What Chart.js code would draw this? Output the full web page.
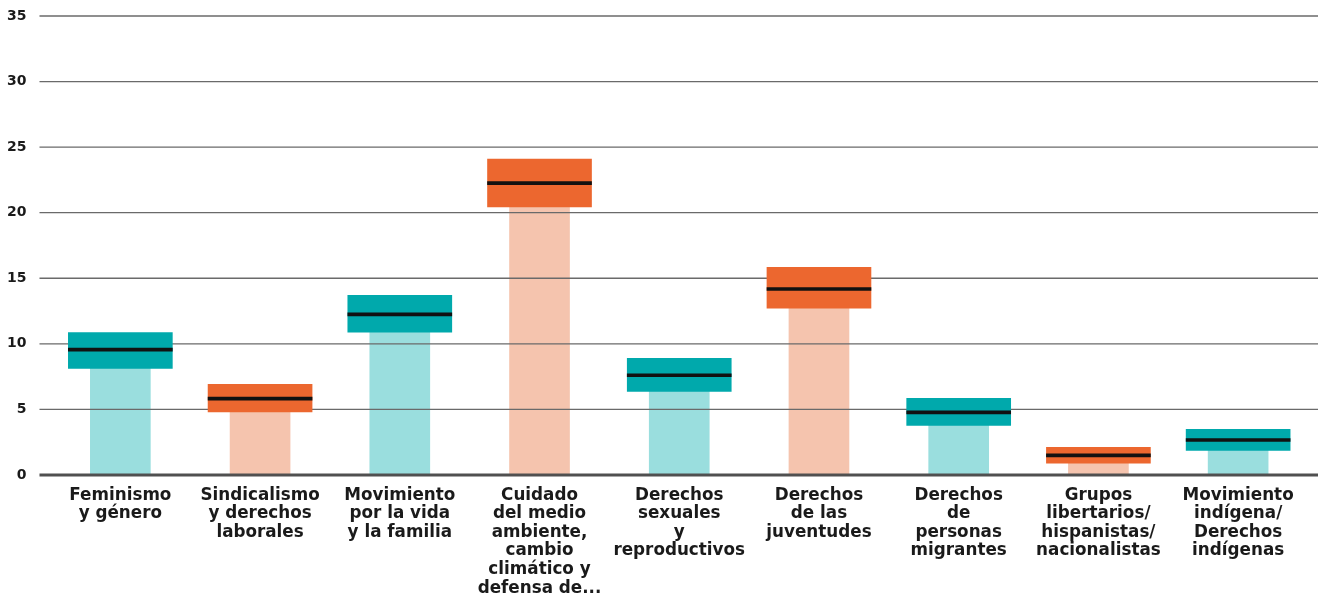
<!DOCTYPE html>
<html>
<head>
<meta charset="utf-8">
<script src="https://cdn.jsdelivr.net/npm/chart.js@4.4.1/dist/chart.umd.min.js"></script>
<style>
  html, body { margin: 0; padding: 0; background: #fff; }
  #wrap { width: 1320px; height: 596px; position: relative; }
</style>
</head>
<body>
<div id="wrap"><canvas id="myChart"></canvas></div>
<script>
const ctx = document.getElementById('myChart');

// categorias (etiquetas en varias lineas)
const categorias = [
  ['Feminismo', 'y género'],
  ['Sindicalismo', 'y derechos', 'laborales'],
  ['Movimiento', 'por la vida', 'y la familia'],
  ['Cuidado', 'del medio', 'ambiente,', 'cambio', 'climático y', 'defensa de...'],
  ['Derechos', 'sexuales', 'y', 'reproductivos'],
  ['Derechos', 'de las', 'juventudes'],
  ['Derechos', 'de', 'personas', 'migrantes'],
  ['Grupos', 'libertarios/', 'hispanistas/', 'nacionalistas'],
  ['Movimiento', 'indígena/', 'Derechos', 'indígenas']
];

// limite inferior, limite superior y valor central
const limiteInferior = [8.13, 4.80, 10.88, 20.44, 6.37, 12.71, 3.78, 0.90, 1.87];
const limiteSuperior = [10.85, 6.91, 13.70, 24.08, 8.89, 15.84, 5.84, 2.10, 3.47];
const valorCentral   = [9.56, 5.82, 12.25, 22.25, 7.60, 14.18, 4.77, 1.49, 2.66];

const ticksY = [0, 5, 10, 15, 20, 25, 30, 35];

// colores alternados
const colorFuerte = ['#00a9ac', '#ec672f'];
const colorSuave  = ['#9adede', '#f5c4ae'];
const fuertes = categorias.map((c, i) => colorFuerte[i % 2]);
const suaves  = categorias.map((c, i) => colorSuave[i % 2]);

// grosor de la linea del valor central (en unidades del eje)
const medioGrosor = 0.115;

// lineas de la grilla, dibujadas antes de las cajas
const grilla = {
  id: 'grilla',
  beforeDatasetDraw(chart, args) {
    if (args.index !== 1) return;
    const c = chart.ctx;
    const area = chart.chartArea;
    const y = chart.scales.y;
    c.save();
    ticksY.forEach(v => {
      const py = y.getPixelForValue(v);
      c.beginPath();
      if (v === 0) {
        c.lineWidth = 3;
        c.strokeStyle = '#505050';
      } else {
        c.lineWidth = 1.3;
        c.strokeStyle = '#6a6a6a';
      }
      c.moveTo(area.left - 11, py);
      c.lineTo(area.right + 10, py);
      c.stroke();
    });
    c.restore();
  }
};

new Chart(ctx, {
  type: 'bar',
  data: {
    labels: categorias,
    datasets: [
      {
        label: 'base',
        data: limiteInferior,
        backgroundColor: suaves,
        barThickness: 60,
        grouped: false,
        order: 2
      },
      {
        label: 'intervalo',
        data: limiteInferior.map((v, i) => [v, limiteSuperior[i]]),
        backgroundColor: fuertes,
        barThickness: 104,
        grouped: false,
        order: 1
      },
      {
        label: 'valor',
        data: valorCentral.map(v => [v - medioGrosor, v + medioGrosor]),
        backgroundColor: '#111',
        barThickness: 104,
        grouped: false,
        order: 0
      }
    ]
  },
  options: {
    responsive: true,
    maintainAspectRatio: false,
    animation: false,
    layout: { padding: { left: 7, right: 12, top: 16, bottom: -1.5 } },
    plugins: {
      legend: { display: false },
      tooltip: { enabled: false }
    },
    scales: {
      x: {
        grid: { display: false, drawTicks: true, tickLength: 11 },
        border: { display: false },
        ticks: {
          autoSkip: false,
          maxRotation: 0,
          padding: 0,
          color: '#1a1a1a',
          font: { family: 'DejaVu Sans', size: 16.8, weight: 'bold', lineHeight: 1.107 }
        }
      },
      y: {
        min: 0,
        max: 35,
        grid: { display: false, drawTicks: true, tickLength: 24 },
        border: { display: false },
        ticks: {
          stepSize: 5,
          padding: 0,
          color: '#1a1a1a',
          font: { family: 'DejaVu Sans', size: 14, weight: 'bold' }
        }
      }
    }
  },
  plugins: [grilla]
});
</script>
</body>
</html>
